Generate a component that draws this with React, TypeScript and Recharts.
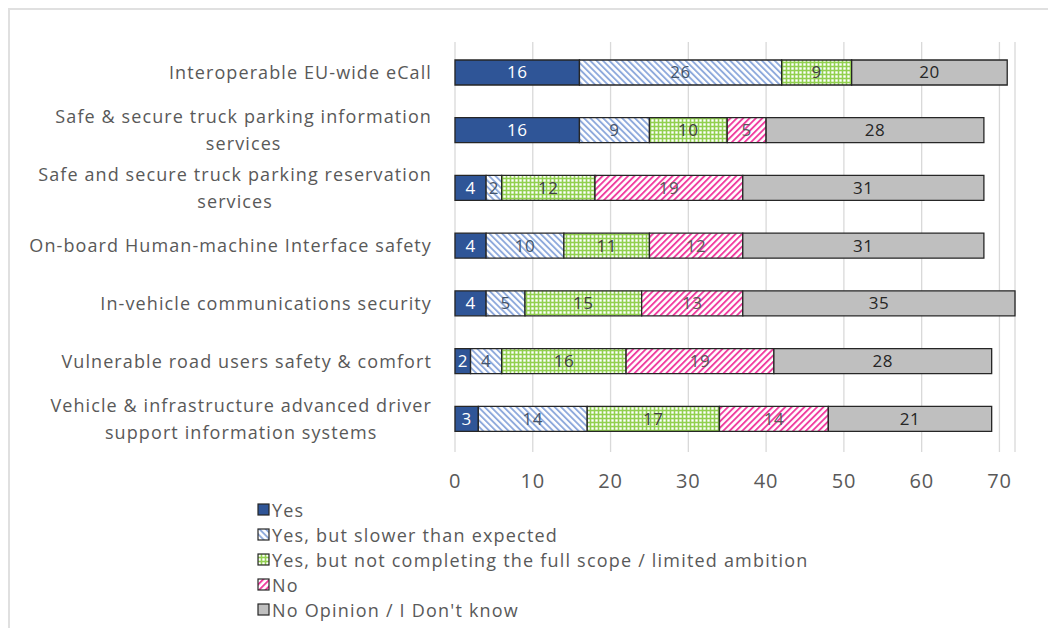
import { Bar, BarChart, CartesianGrid, LabelList, Legend, XAxis, YAxis } from "recharts";

const FONT = '"Open Sans", sans-serif';
const LS = 1.1;

const categories = [
  "Interoperable EU-wide eCall",
  "Safe & secure truck parking information\nservices",
  "Safe and secure truck parking reservation\nservices",
  "On-board Human-machine Interface safety",
  "In-vehicle communications security",
  "Vulnerable road users safety & comfort",
  "Vehicle & infrastructure advanced driver\nsupport information systems",
];

const yes = [16, 16, 4, 4, 4, 2, 3];
const slower = [26, 9, 2, 10, 5, 4, 14];
const limited = [9, 10, 12, 11, 15, 16, 17];
const no = [0, 5, 19, 12, 13, 19, 14];
const noOpinion = [20, 28, 31, 31, 35, 28, 21];

const xTicks = [0, 10, 20, 30, 40, 50, 60, 70];

const seriesNames = [
  "Yes",
  "Yes, but slower than expected",
  "Yes, but not completing the full scope / limited ambition",
  "No",
  "No Opinion / I Don't know",
];

const data = categories.map((name, i) => ({
  name,
  yes: yes[i],
  slower: slower[i],
  limited: limited[i],
  no: no[i],
  noOpinion: noOpinion[i],
}));

const series = [
  { key: "yes", fill: "#2f5597", text: "#ffffff" },
  { key: "slower", fill: "url(#pSlower)", text: "#44546a" },
  { key: "limited", fill: "url(#pLimited)", text: "#404040" },
  { key: "no", fill: "url(#pNo)", text: "#595959" },
  { key: "noOpinion", fill: "#bfbfbf", text: "#262626" },
];

let ctx: CanvasRenderingContext2D | null = null;
function measure(text: string, size: number) {
  if (!ctx) ctx = document.createElement("canvas").getContext("2d");
  if (!ctx) return text.length * (size * 0.55 + LS);
  ctx.font = `${size}px ${FONT}`;
  return ctx.measureText(text).width + text.length * LS;
}

function CategoryTick(props: any) {
  const { x, y, payload } = props;
  const lines = String(payload.value).split("\n");
  const size = 18;
  const lineH = 27;
  const maxW = Math.max(...lines.map((l) => measure(l, size)));
  const y0 = y - ((lines.length - 1) * lineH) / 2;
  return (
    <g>
      {lines.map((l, i) => (
        <text
          key={i}
          x={lines.length > 1 ? x - maxW / 2 : x}
          y={y0 + i * lineH}
          dy="0.35em"
          textAnchor={lines.length > 1 ? "middle" : "end"}
          fill="#595959"
          fontSize={size}
          letterSpacing={LS}
          fontFamily={FONT}
        >
          {l}
        </text>
      ))}
    </g>
  );
}

function ValueTick(props: any) {
  const { x, y, payload } = props;
  return (
    <text x={x} y={y} dy="0.71em" textAnchor="middle" fill="#595959" fontSize={20} letterSpacing={0.8} fontFamily={FONT}>
      {payload.value}
    </text>
  );
}

const segLabel = (color: string) => (props: any) => {
  const { x, y, width, height, value } = props;
  if (!value) return null;
  return (
    <text
      x={x + width / 2}
      y={y + height / 2}
      dy="0.35em"
      textAnchor="middle"
      fill={color}
      fontSize={17}
      letterSpacing={0.5}
      fontFamily={FONT}
    >
      {value}
    </text>
  );
};

function LegendBox() {
  return (
    <div style={{ fontFamily: FONT, fontSize: 18, letterSpacing: 1.2, color: "#595959" }}>
      {seriesNames.map((n, i) => (
        <div key={n} style={{ display: "flex", alignItems: "center", height: 25, whiteSpace: "nowrap" }}>
          <svg width={14} height={14} style={{ marginRight: 1 }}>
            <rect x={1} y={1} width={11} height={11} fill={series[i].fill} stroke="#262626" strokeWidth={1.2} />
          </svg>
          <span>{n}</span>
        </div>
      ))}
    </div>
  );
}

export default function App() {
  return (
    <div
      style={{
        position: "relative",
        width: 1046,
        height: 618,
        borderLeft: "2px solid #e0e0e0",
        borderTop: "2px solid #e0e0e0",
        background: "#fff",
      }}
    >
      <svg width={0} height={0} style={{ position: "absolute" }}>
        <defs>
          <pattern id="pSlower" width={4.5} height={4.5} patternUnits="userSpaceOnUse" patternTransform="rotate(-45)">
            <rect width={4.5} height={4.5} fill="#ffffff" />
            <rect width={1.9} height={4.5} fill="#8faadc" />
          </pattern>
          <pattern id="pNo" width={4.5} height={4.5} patternUnits="userSpaceOnUse" patternTransform="rotate(45)">
            <rect width={4.5} height={4.5} fill="#ffffff" />
            <rect width={1.9} height={4.5} fill="#f03ea0" />
          </pattern>
          <pattern id="pLimited" width={4} height={4} patternUnits="userSpaceOnUse">
            <rect width={4} height={4} fill="#92d050" />
            <rect x={1.3} y={1.3} width={2.4} height={2.4} fill="#ffffff" />
          </pattern>
        </defs>
      </svg>
      <BarChart
        width={1046}
        height={618}
        data={data}
        layout="vertical"
        margin={{ top: 32, right: 41, bottom: 136, left: 0 }}
        barCategoryGap={0}
      >
        <CartesianGrid horizontal={false} stroke="#d9d9d9" strokeWidth={1.3} />
        <XAxis
          type="number"
          domain={[0, 72]}
          ticks={xTicks}
          axisLine={false}
          tickLine={false}
          tickMargin={16}
          height={40}
          tick={<ValueTick />}
        />
        <YAxis
          type="category"
          dataKey="name"
          width={445}
          axisLine={false}
          tickLine={false}
          tickMargin={17}
          padding={{ top: 2, bottom: 4 }}
          interval={0}
          tick={<CategoryTick />}
        />
        <Legend
          layout="vertical"
          align="center"
          verticalAlign="middle"
          content={<LegendBox />}
          wrapperStyle={{ position: "absolute", left: 247, top: 487, width: 620 }}
        />
        {series.map((s, i) => (
          <Bar
            key={s.key}
            dataKey={s.key}
            name={seriesNames[i]}
            stackId="a"
            barSize={25}
            fill={s.fill}
            stroke="#262626"
            strokeWidth={1.3}
            isAnimationActive={false}
          >
            <LabelList dataKey={s.key} content={segLabel(s.text)} />
          </Bar>
        ))}
      </BarChart>
    </div>
  );
}
